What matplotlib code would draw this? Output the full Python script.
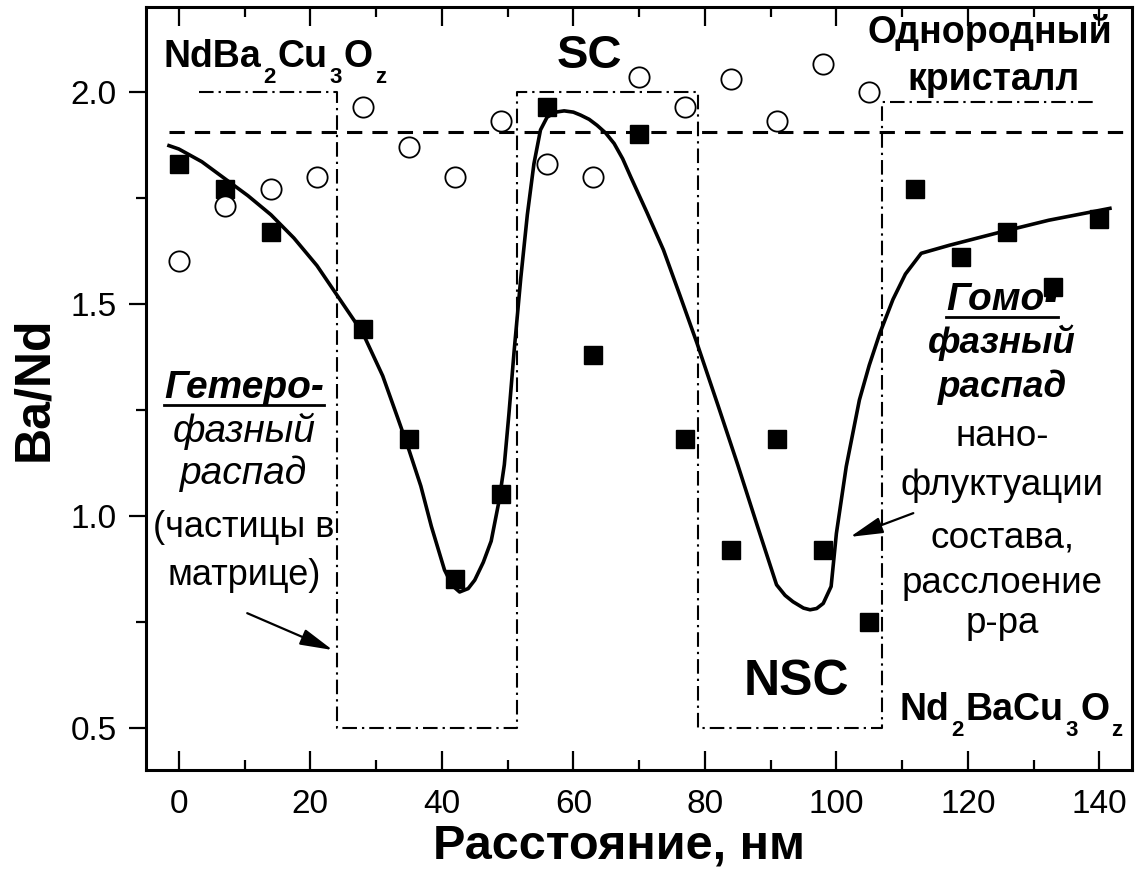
import matplotlib
matplotlib.use("Agg")
import matplotlib.pyplot as plt
from matplotlib.lines import Line2D
from matplotlib.transforms import offset_copy
from matplotlib.ticker import MultipleLocator, FormatStrFormatter

plt.rcParams["font.family"] = ["Liberation Sans", "DejaVu Sans"]

# Ba/Nd along the scan line, filled squares
dist_sq = [0, 7, 14, 28, 35, 42, 49, 56, 63, 70, 77, 84, 91, 98, 105,
           112, 119, 126, 133, 140]
ratio_sq = [1.83, 1.77, 1.67, 1.44, 1.18, 0.85, 1.05, 1.965, 1.38, 1.90,
            1.18, 0.92, 1.18, 0.92, 0.75, 1.77, 1.61, 1.67, 1.54, 1.70]

# second scan, open circles
dist_circ = [0, 7, 14, 21, 28, 35, 42, 49, 56, 63, 70, 77, 84, 91, 98, 105]
ratio_circ = [1.60, 1.73, 1.77, 1.80, 1.965, 1.87, 1.80, 1.93, 1.83, 1.80,
              2.035, 1.965, 2.03, 1.93, 2.065, 2.00]

# guide curve through the squares
curve_x = [-1.5, 0, 3.5, 7, 10.5, 14, 17.5, 21, 24.5, 28, 31, 33.3, 35, 36.8,
           38.4, 40.4, 41.6, 42.7, 44, 45, 46.3, 47.5, 48.7, 49.5, 50.2, 51,
           52, 53, 54, 55, 56, 57.3, 58.6, 60, 61.1, 62.4, 63.6, 64.9, 66.2,
           67.5, 68.7, 71.2, 73.7, 76.2, 78.8, 82, 85, 88, 90.9, 92.2, 93.4,
           95, 96, 97, 98, 99.2, 100, 101.5, 103.5, 105, 106.6, 108.6, 110.5,
           112.9, 117.2, 124.7, 132.3, 141.6]
curve_y = [1.873, 1.865, 1.835, 1.795, 1.755, 1.71, 1.655, 1.59, 1.51, 1.43,
           1.33, 1.23, 1.155, 1.07, 0.975, 0.872, 0.835, 0.82, 0.828, 0.848,
           0.89, 0.94, 1.035, 1.12, 1.24, 1.39, 1.56, 1.71, 1.83, 1.91, 1.94,
           1.952, 1.955, 1.952, 1.945, 1.935, 1.921, 1.903, 1.878, 1.842,
           1.80, 1.715, 1.627, 1.52, 1.407, 1.26, 1.12, 0.975, 0.837, 0.812,
           0.797, 0.782, 0.778, 0.781, 0.793, 0.833, 0.958, 1.116, 1.273,
           1.355, 1.43, 1.51, 1.57, 1.619, 1.638, 1.668, 1.697, 1.725]

# phase regions (dash-dot frame) and stoichiometric Ba/Nd level
frame_x = [3, 24, 24, 51.5, 51.5, 79, 79, 107, 107, 139]
frame_y = [2.0, 2.0, 0.5, 0.5, 2.0, 2.0, 0.5, 0.5, 1.975, 1.975]
nominal_level = 1.905

fig = plt.figure(figsize=(11.35, 8.77), dpi=100)
ax = fig.add_axes([0.1286, 0.122, 0.869, 0.870])
renderer = fig.canvas.get_renderer()

ax.plot([-1.5, 145], [nominal_level] * 2, color="k", lw=2.2,
        dashes=(5, 3.3), zorder=2)
ax.plot(frame_x, frame_y, color="k", lw=1.5, dashes=(7, 2.4, 1.1, 2.4),
        zorder=2)
ax.plot(curve_x, curve_y, color="k", lw=2.6, zorder=3)
ax.plot(dist_sq, ratio_sq, "s", color="k", ms=13, zorder=4)
ax.plot(dist_circ, ratio_circ, "o", mfc="white", mec="k", ms=14.6, mew=1.3,
        zorder=4)

ax.set_xlim(-5, 145)
ax.set_ylim(0.4, 2.2)
ax.xaxis.set_major_locator(MultipleLocator(20))
ax.xaxis.set_minor_locator(MultipleLocator(10))
ax.yaxis.set_major_locator(MultipleLocator(0.5))
ax.yaxis.set_minor_locator(MultipleLocator(0.25))
ax.yaxis.set_major_formatter(FormatStrFormatter("%.1f"))

ax.tick_params(axis="x", which="both", direction="in", top=True, bottom=True,
               labelsize=24, pad=14, width=1.6)
ax.tick_params(axis="x", which="major", length=14)
ax.tick_params(axis="x", which="minor", length=7)
ax.tick_params(axis="y", which="both", direction="out", left=True,
               right=False, labelsize=24, pad=9, width=1.6)
ax.tick_params(axis="y", which="major", length=12)
ax.tick_params(axis="y", which="minor", length=7)
for sp in ax.spines.values():
    sp.set_linewidth(2.2)

ax.set_xlabel("Расстояние, нм", fontsize=35, fontweight="bold", labelpad=2)
ax.xaxis.label.set_x(0.48)
ax.set_ylabel("Ba/Nd", fontsize=36, fontweight="bold", labelpad=10)


def formula(x, y, parts, size=27, sub_size=16, drop=16):
    """Chemical formula with subscripts hanging below the baseline."""
    dx = 0.0
    for s, is_sub in parts:
        tr = offset_copy(ax.transData, fig=fig, x=dx,
                         y=-drop if is_sub else 0, units="dots")
        t = ax.text(x, y, s, transform=tr, fontsize=sub_size if is_sub else size,
                    fontweight="bold", ha="left", va="baseline")
        dx += t.get_window_extent(renderer).width + 2


# phase names
formula(-2.4, 2.059, [("NdBa", 0), ("2", 1), ("Cu", 0), ("3", 1),
                      ("O", 0), ("z", 1)])
formula(109.6, 0.518, [("Nd", 0), ("2", 1), ("BaCu", 0), ("3", 1),
                       ("O", 0), ("z", 1)])
ax.text(57.5, 2.056, "SC", fontsize=34, fontweight="bold", ha="left",
        va="baseline")
ax.text(93.9, 0.577, "NSC", fontsize=36, fontweight="bold", ha="center",
        va="baseline")
ax.text(123.4, 2.115, "Однородный", fontsize=27, fontweight="bold",
        ha="center", va="baseline", zorder=2)
ax.text(123.9, 2.004, "кристалл", fontsize=27, fontweight="bold",
        ha="center", va="baseline")

underlined = []

# heterophase decomposition note
left_lines = [("Гетеро-", "bold", "italic", 28, 1.278),
              ("фазный", "normal", "italic", 28, 1.174),
              ("распад", "normal", "italic", 28, 1.074),
              ("(частицы в", "normal", "normal", 26, 0.950),
              ("матрице)", "normal", "normal", 26, 0.837)]
for i, (s, w, st, fs, y) in enumerate(left_lines):
    t = ax.text(9.9, y, s, fontsize=fs, fontweight=w, fontstyle=st,
                ha="center", va="baseline")
    if i == 0:
        underlined.append(t)

# homophase decomposition note
right_lines = [("Гомо-", "bold", "italic", 28, 1.485),
               ("фазный", "bold", "italic", 26.5, 1.384),
               ("распад", "bold", "italic", 26.5, 1.280),
               ("нано-", "normal", "normal", 26.5, 1.164),
               ("флуктуации", "normal", "normal", 26.5, 1.049),
               ("состава,", "normal", "normal", 26.5, 0.926),
               ("расслоение", "normal", "normal", 26.5, 0.818),
               ("р-ра", "normal", "normal", 26.5, 0.723)]
for i, (s, w, st, fs, y) in enumerate(right_lines):
    t = ax.text(125.2, y, s, fontsize=fs, fontweight=w, fontstyle=st,
                ha="center", va="baseline")
    if i == 0:
        underlined.append(t)

arrow = dict(arrowstyle="-|>,head_length=1.0,head_width=0.25", color="k",
             lw=1.6, mutation_scale=20, shrinkA=0, shrinkB=0)
ax.annotate("", xy=(23.4, 0.683), xytext=(10.4, 0.770), arrowprops=arrow)
ax.annotate("", xy=(102.1, 0.950), xytext=(111.7, 1.006), arrowprops=arrow)

# underline the headings below their baseline
fig.canvas.draw()
for t in underlined:
    bb = t.get_window_extent(renderer)
    x_base, y_base = ax.transData.transform(t.get_position())
    y_line = y_base - 7
    fig.add_artist(Line2D([bb.x0 / fig.bbox.width, bb.x1 / fig.bbox.width],
                          [y_line / fig.bbox.height] * 2,
                          transform=fig.transFigure, color="k", lw=2.0))

fig.savefig("out.png", dpi=100)
